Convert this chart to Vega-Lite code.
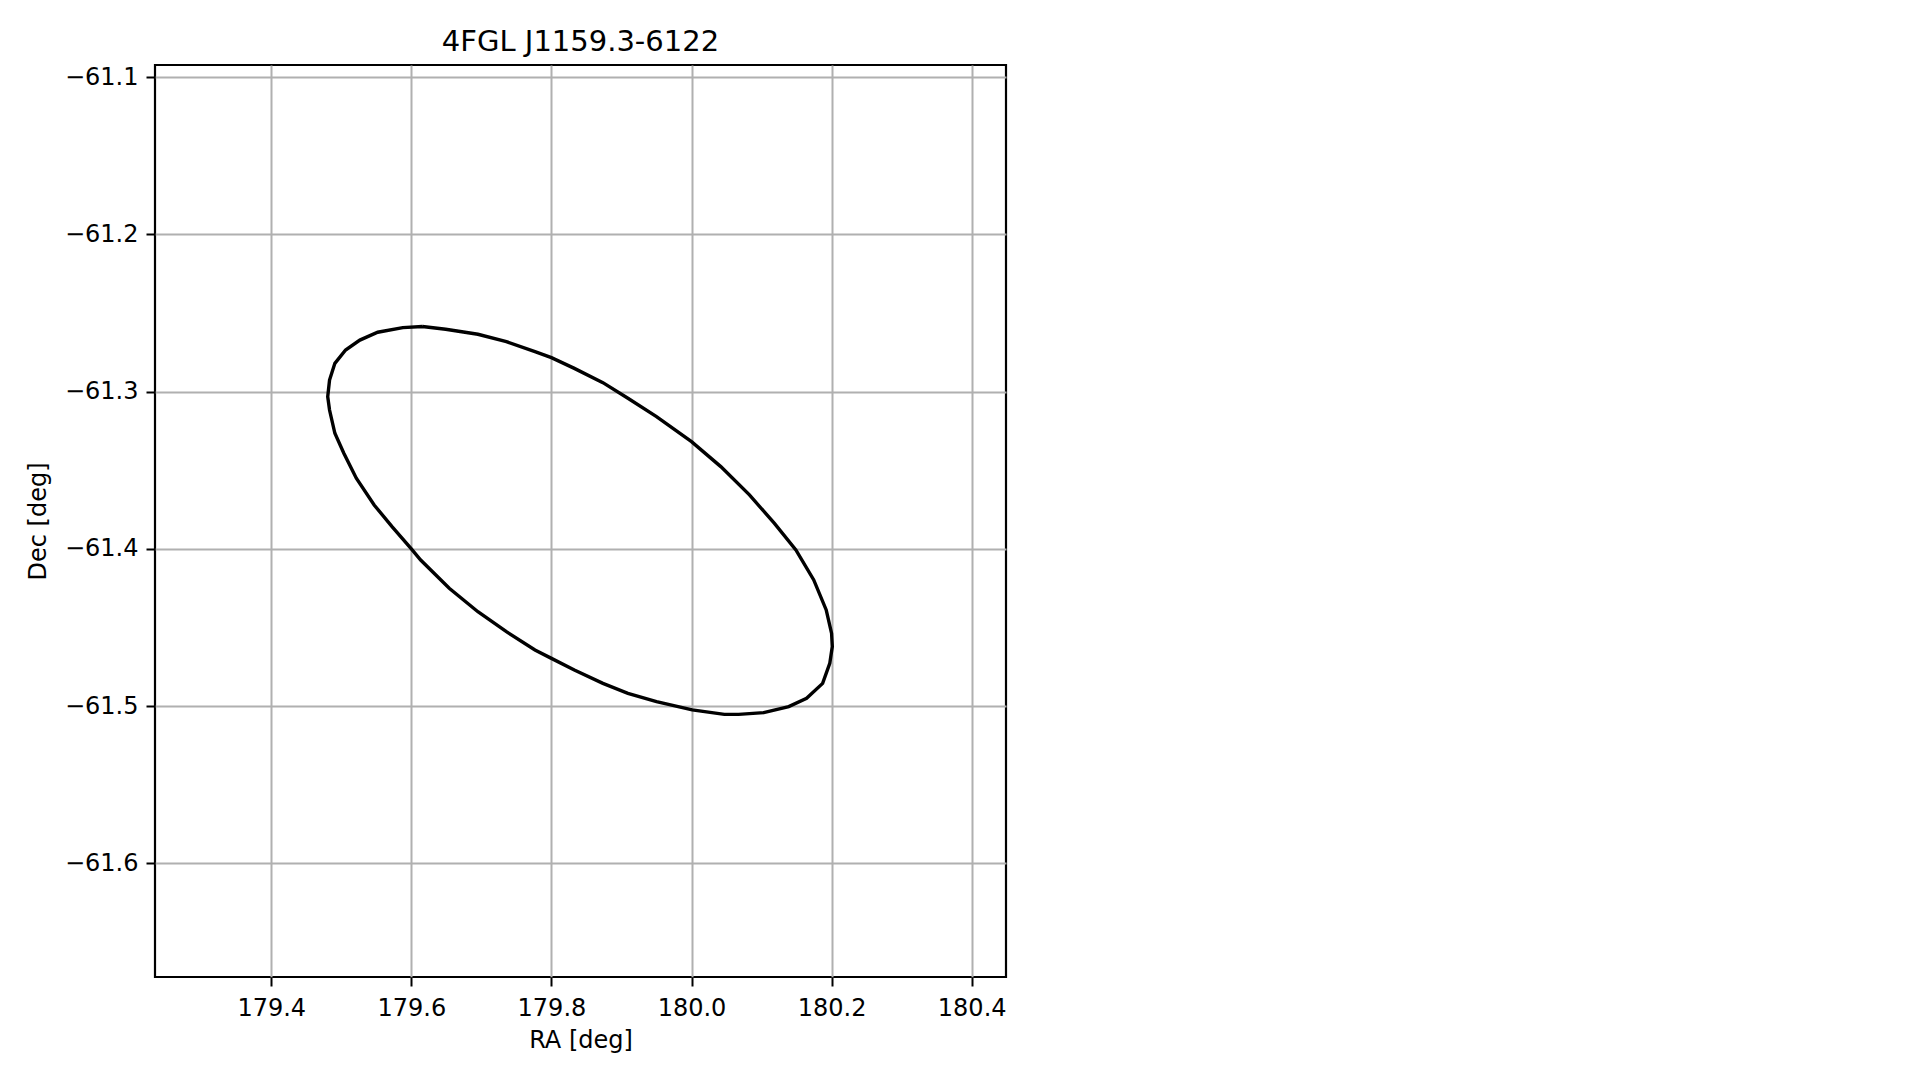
{
  "$schema": "https://vega.github.io/schema/vega-lite/v6.json",
  "autosize": {"type": "none"},
  "padding": {"left": 155, "top": 65, "right": 913, "bottom": 103},
  "width": 851,
  "height": 912,
  "background": "white",
  "title": {
    "text": "4FGL J1159.3-6122",
    "font": "DejaVu Sans",
    "fontSize": 29,
    "fontWeight": "normal",
    "color": "black",
    "anchor": "middle",
    "baseline": "bottom",
    "offset": -21
  },
  "config": {
    "view": {"stroke": "black", "strokeWidth": 2.2},
    "axis": {
      "labelFont": "DejaVu Sans",
      "labelFontSize": 24,
      "labelColor": "black",
      "titleFont": "DejaVu Sans",
      "titleFontSize": 24,
      "titleFontWeight": "normal",
      "titleColor": "black",
      "tickColor": "black",
      "tickSize": 9,
      "tickWidth": 2,
      "domain": false,
      "gridColor": "#b0b0b0",
      "gridWidth": 2,
      "gridOpacity": 1
    }
  },
  "data": {
    "values": [
      {"i": 0, "ra": 179.6158, "dec": -61.2586},
      {"i": 1, "ra": 179.649, "dec": -61.2603},
      {"i": 2, "ra": 179.695, "dec": -61.2635},
      {"i": 3, "ra": 179.7357, "dec": -61.2682},
      {"i": 4, "ra": 179.7765, "dec": -61.2745},
      {"i": 5, "ra": 179.8, "dec": -61.2784},
      {"i": 6, "ra": 179.8327, "dec": -61.2852},
      {"i": 7, "ra": 179.8735, "dec": -61.2943},
      {"i": 8, "ra": 179.9092, "dec": -61.3042},
      {"i": 9, "ra": 179.95, "dec": -61.3159},
      {"i": 10, "ra": 180.0, "dec": -61.3318},
      {"i": 11, "ra": 180.0418, "dec": -61.3477},
      {"i": 12, "ra": 180.0827, "dec": -61.3657},
      {"i": 13, "ra": 180.1184, "dec": -61.3838},
      {"i": 14, "ra": 180.149, "dec": -61.4007},
      {"i": 15, "ra": 180.1745, "dec": -61.4198},
      {"i": 16, "ra": 180.1923, "dec": -61.4389},
      {"i": 17, "ra": 180.2, "dec": -61.4538},
      {"i": 18, "ra": 180.201, "dec": -61.4622},
      {"i": 19, "ra": 180.1974, "dec": -61.4729},
      {"i": 20, "ra": 180.1872, "dec": -61.4856},
      {"i": 21, "ra": 180.1643, "dec": -61.4951},
      {"i": 22, "ra": 180.1388, "dec": -61.5004},
      {"i": 23, "ra": 180.1031, "dec": -61.5042},
      {"i": 24, "ra": 180.0673, "dec": -61.5053},
      {"i": 25, "ra": 180.0469, "dec": -61.5053},
      {"i": 26, "ra": 180.001, "dec": -61.5025},
      {"i": 27, "ra": 179.95, "dec": -61.4972},
      {"i": 28, "ra": 179.9092, "dec": -61.4919},
      {"i": 29, "ra": 179.8735, "dec": -61.4856},
      {"i": 30, "ra": 179.8327, "dec": -61.4771},
      {"i": 31, "ra": 179.8, "dec": -61.4697},
      {"i": 32, "ra": 179.7765, "dec": -61.4644},
      {"i": 33, "ra": 179.7357, "dec": -61.4527},
      {"i": 34, "ra": 179.695, "dec": -61.44},
      {"i": 35, "ra": 179.6541, "dec": -61.4251},
      {"i": 36, "ra": 179.6133, "dec": -61.4071},
      {"i": 37, "ra": 179.6, "dec": -61.4},
      {"i": 38, "ra": 179.5724, "dec": -61.3859},
      {"i": 39, "ra": 179.5469, "dec": -61.3721},
      {"i": 40, "ra": 179.5214, "dec": -61.3551},
      {"i": 41, "ra": 179.5036, "dec": -61.3392},
      {"i": 42, "ra": 179.4908, "dec": -61.3265},
      {"i": 43, "ra": 179.4832, "dec": -61.3117},
      {"i": 44, "ra": 179.4806, "dec": -61.3032},
      {"i": 45, "ra": 179.4832, "dec": -61.2926},
      {"i": 46, "ra": 179.4908, "dec": -61.282},
      {"i": 47, "ra": 179.5061, "dec": -61.2735},
      {"i": 48, "ra": 179.5265, "dec": -61.2672},
      {"i": 49, "ra": 179.552, "dec": -61.2622},
      {"i": 50, "ra": 179.5878, "dec": -61.2593},
      {"i": 51, "ra": 179.6158, "dec": -61.2586}
    ]
  },
  "mark": {"type": "line", "color": "black", "strokeWidth": 3.4, "clip": true},
  "encoding": {
    "x": {
      "field": "ra",
      "type": "quantitative",
      "scale": {"domain": [179.234, 180.449], "nice": false, "zero": false},
      "axis": {
        "title": "RA [deg]",
        "values": [179.4, 179.6, 179.8, 180.0, 180.2, 180.4],
        "format": ".1f",
        "labelPadding": 10,
        "titlePadding": 8
      }
    },
    "y": {
      "field": "dec",
      "type": "quantitative",
      "scale": {"domain": [-61.6724, -61.0922], "nice": false, "zero": false},
      "axis": {
        "title": "Dec [deg]",
        "values": [-61.1, -61.2, -61.3, -61.4, -61.5, -61.6],
        "format": ".1f",
        "labelPadding": 8,
        "titlePadding": 14
      }
    },
    "order": {"field": "i", "type": "quantitative"}
  }
}
